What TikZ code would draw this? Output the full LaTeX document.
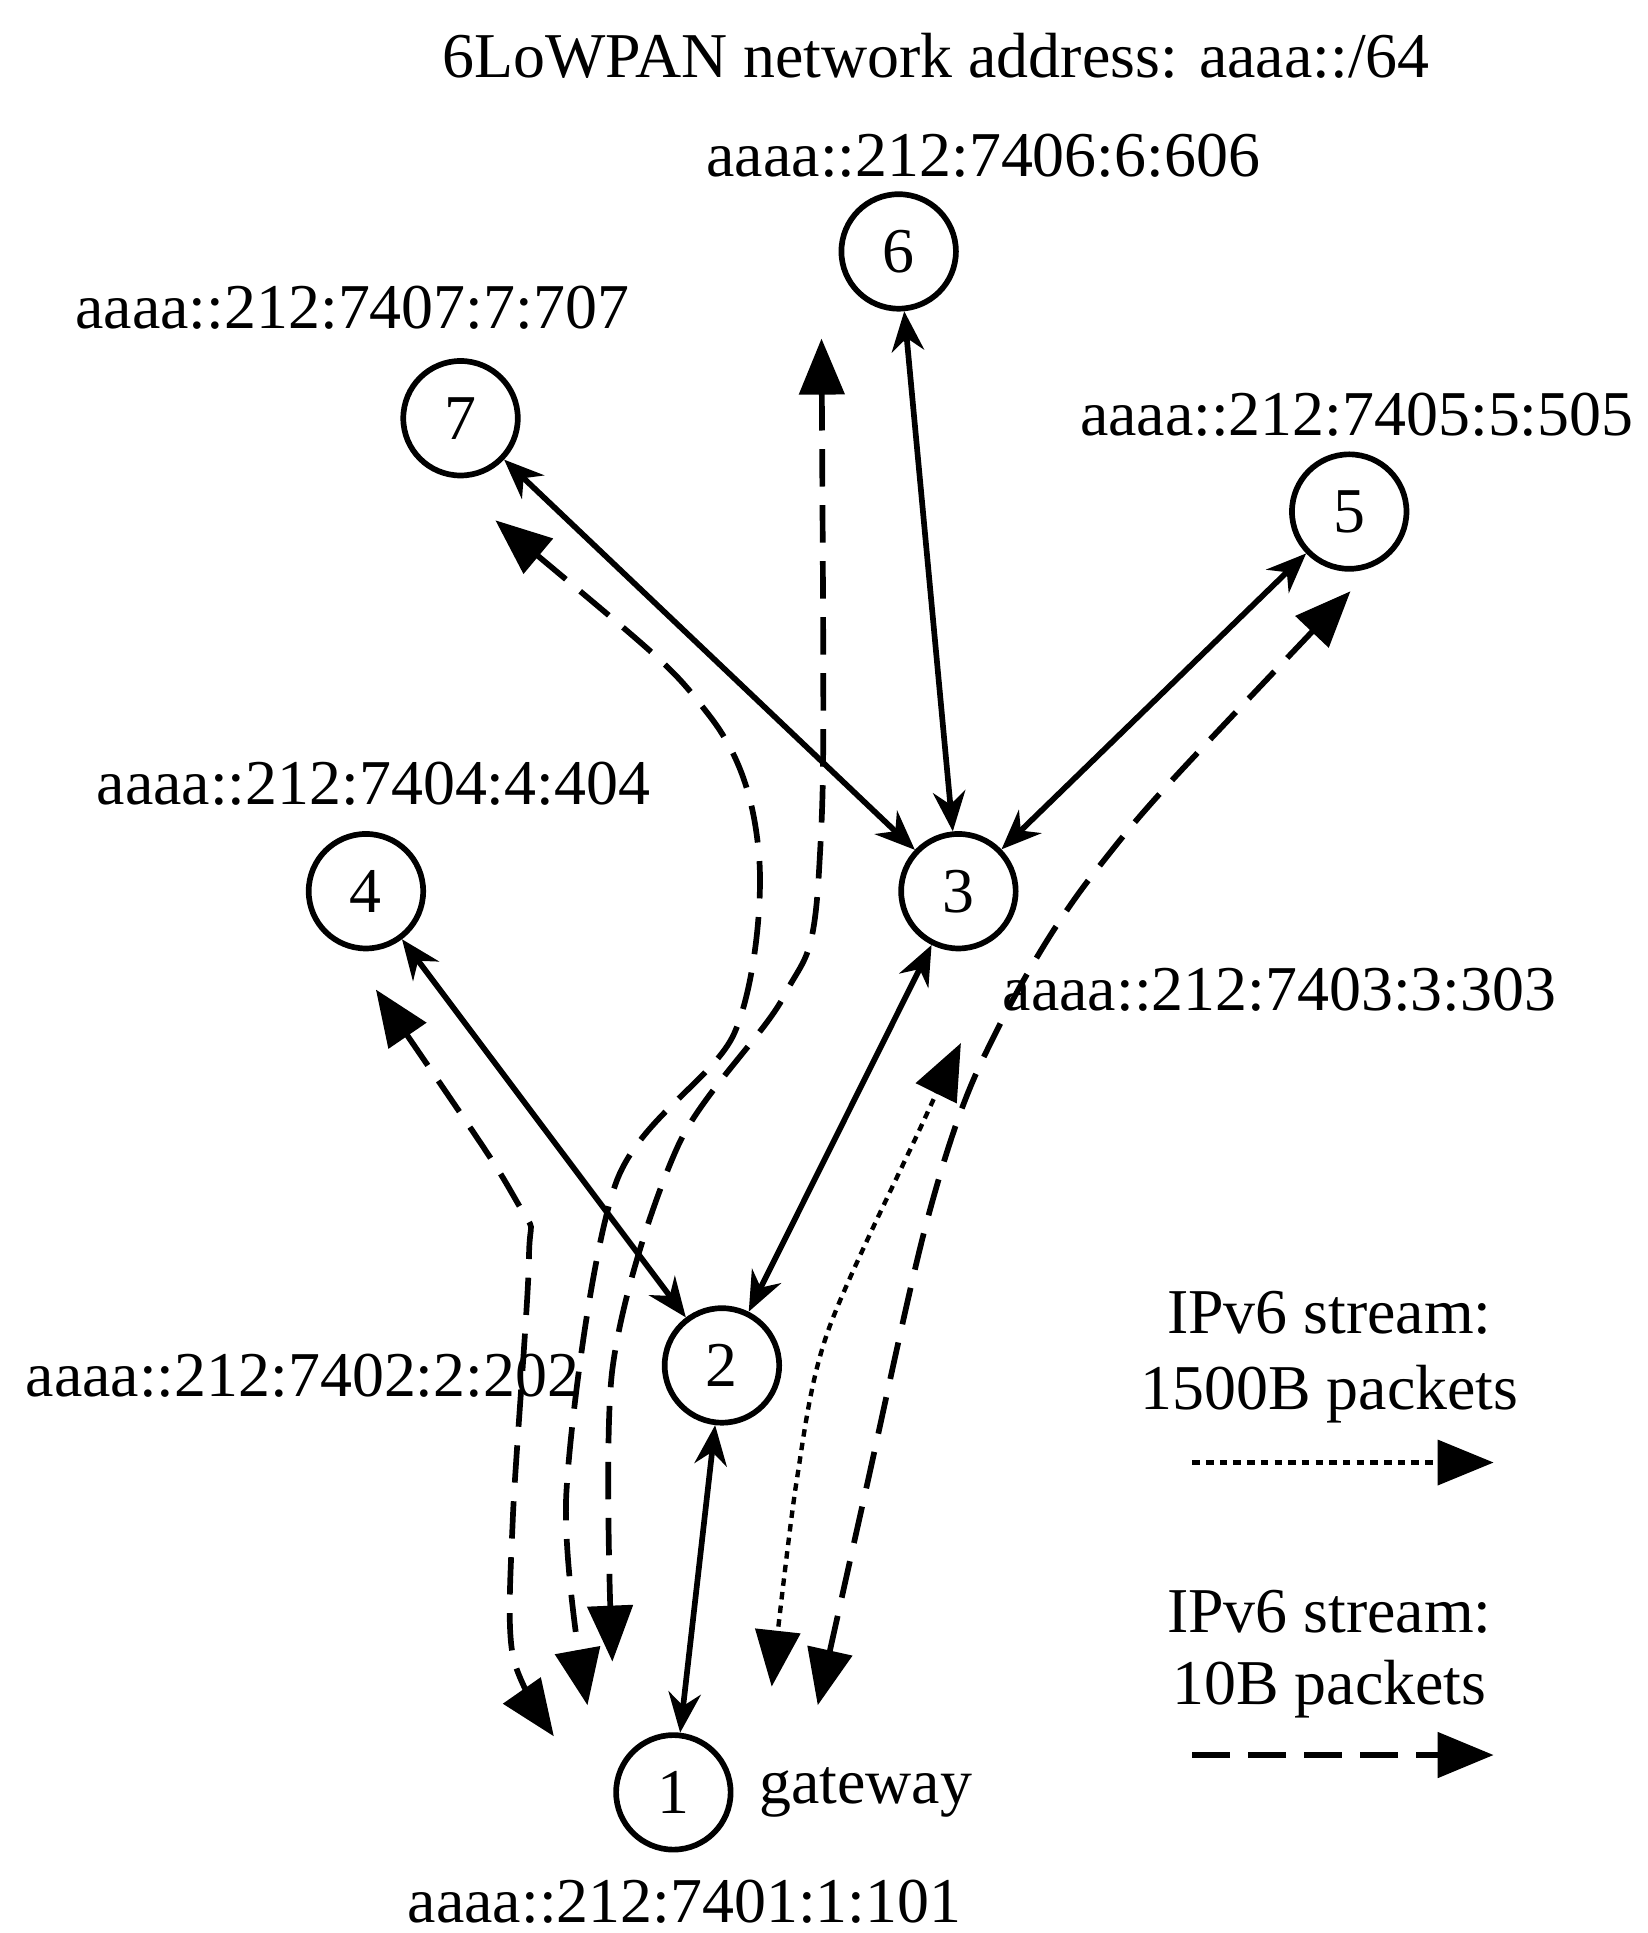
\documentclass[tikz,border=0pt]{standalone}
\usepackage{fontspec}
\setmainfont{Liberation Serif}
\usetikzlibrary{arrows.meta, positioning}
\tikzset{
  mote/.style={draw, circle, line width=1.3pt, minimum size=0.92cm, inner sep=0pt},
  lbl/.style={inner sep=0pt},
  link/.style={line width=1.3pt, {Stealth[length=0.32cm,width=0.26cm]}-{Stealth[length=0.32cm,width=0.26cm]}},
  big/.style={-{Triangle[length=0.45cm,width=0.36cm]}},
  stream10/.style={big, line width=1.3pt, dash pattern=on 0.3cm off 0.15cm},
  stream1500/.style={big, line width=1pt, dash pattern=on 0.06cm off 0.05cm}
}
\begin{document}
\begin{tikzpicture}[x=0.1mm, y=-0.1mm, font=\fontsize{14.6}{18}\selectfont]
\useasboundingbox (0,0) rectangle (1324,1553);
% nodes
\node[mote] (n1) at (541,1440) {1};
\node[mote] (n2) at (580,1097) {2};
\node[mote] (n3) at (770,716) {3};
\node[mote] (n4) at (294,716) {4};
\node[mote] (n5) at (1084,411) {5};
\node[mote] (n6) at (722,202) {6};
\node[mote] (n7) at (370,336) {7};
% labels
\node[lbl] (title) at (752,45) {6LoWPAN network address: aaaa::/64};
\node[lbl] (a6) at (790,125) {aaaa::212:7406:6:606};
\node[lbl] (a7) at (283,247) {aaaa::212:7407:7:707};
\node[lbl] (a5) at (1090,333) {aaaa::212:7405:5:505};
\node[lbl] (a4) at (300,630) {aaaa::212:7404:4:404};
\node[lbl] (a3) at (1028,795) {aaaa::212:7403:3:303};
\node[lbl] (a2) at (243,1105) {aaaa::212:7402:2:202};
\node[lbl] (a1) at (550,1528) {aaaa::212:7401:1:101};
\node[lbl, right=0.2cm of n1] (gw) {gateway};
% links
\draw[link] (n7) -- (n3);
\draw[link] (n6) -- (n3);
\draw[link] (n5) -- (n3);
\draw[link] (n4) -- (n2);
\draw[link] (n3) -- (n2);
\draw[link] (n2) -- (n1);
% streams
\draw[stream10, {Triangle[length=0.45cm,width=0.36cm]}-{Triangle[length=0.45cm,width=0.36cm]}]
  plot[smooth, tension=0.5] coordinates {(302,795) (415,965) (425,1010) (412,1220) (412,1330) (445,1395)};
\draw[stream10, {Triangle[length=0.45cm,width=0.36cm]}-{Triangle[length=0.45cm,width=0.36cm]}]
  plot[smooth, tension=0.5] coordinates {(398,418) (570,575) (610,690) (590,830) (495,950) (455,1200) (472,1370)};
\draw[stream10, {Triangle[length=0.45cm,width=0.36cm]}-{Triangle[length=0.45cm,width=0.36cm]}]
  plot[smooth, tension=0.5] coordinates {(660,272) (658,700) (630,800) (545,920) (492,1100) (492,1335)};
\draw[stream10, {Triangle[length=0.45cm,width=0.36cm]}-{Triangle[length=0.45cm,width=0.36cm]}]
  plot[smooth, tension=0.5] coordinates {(1085,475) (880,700) (790,850) (745,980) (695,1200) (657,1370)};
\draw[stream1500, {Triangle[length=0.45cm,width=0.36cm]}-{Triangle[length=0.45cm,width=0.36cm]}]
  plot[smooth, tension=0.5] coordinates {(772,838) (740,905) (665,1070) (640,1190) (620,1355)};
% legend
\node[lbl] (l1a) at (1068,1055) {IPv6 stream:};
\node[lbl] (l1b) at (1068,1120) {1500B packets};
\coordinate (d1s) at (958,1175);
\coordinate (d1e) at (1200,1175);
\draw[stream1500] (d1s) -- (d1e);
\node[lbl] (l2a) at (1068,1295) {IPv6 stream:};
\node[lbl] (l2b) at (1068,1357) {10B packets};
\coordinate (d2s) at (958,1410);
\coordinate (d2e) at (1200,1410);
\draw[stream10] (d2s) -- (d2e);
\end{tikzpicture}
\end{document}
